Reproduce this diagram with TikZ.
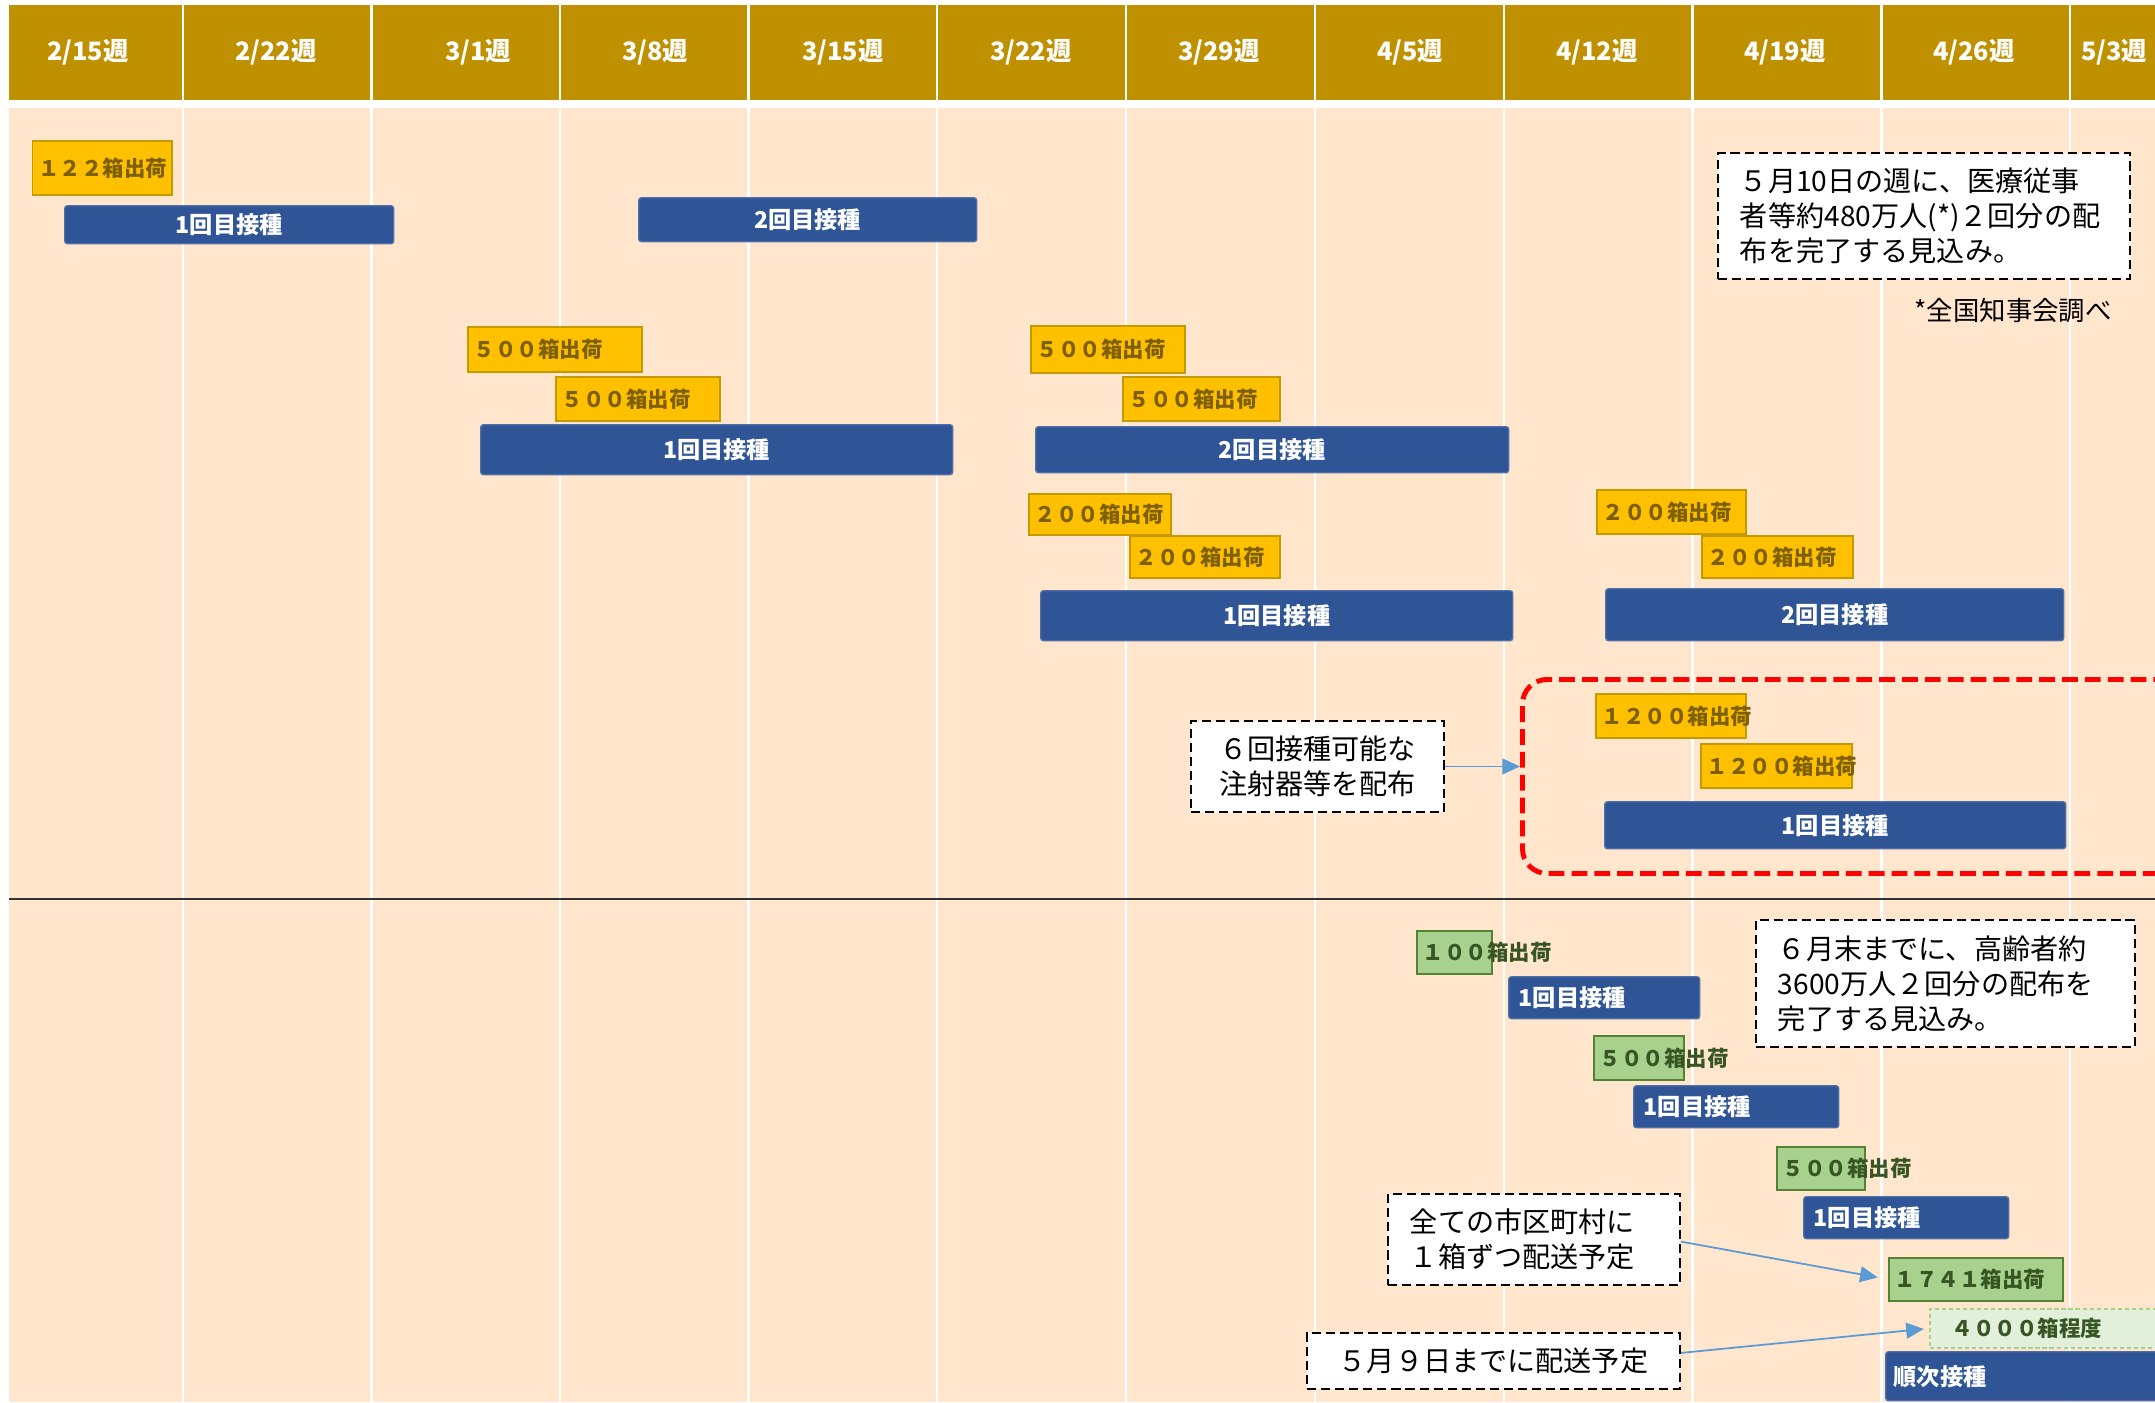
\documentclass[tikz,border=0pt]{standalone}
\usepackage{fontspec}
\setmainfont{Noto Sans CJK JP}
\usetikzlibrary{arrows.meta}
\definecolor{hdr}{HTML}{BF9000}
\definecolor{peach}{HTML}{FFE6CC}
\definecolor{ylw}{HTML}{FFC000}
\definecolor{ylwline}{HTML}{C49A00}
\definecolor{ylwtxt}{HTML}{7F6000}
\definecolor{blu}{HTML}{2F5597}
\definecolor{bluline}{HTML}{4F6FA8}
\definecolor{grn}{HTML}{A9D18E}
\definecolor{grnline}{HTML}{548235}
\definecolor{grntxt}{HTML}{375623}
\definecolor{lgrn}{HTML}{E2EFDA}
\definecolor{arr}{HTML}{5B9BD5}
\newcommand\bxc[7]{\node[#1, anchor=north west, minimum width={(#5-#3)*0.01cm}, minimum height={(#6-#4)*0.01cm}] (#2) at (#3,#4) {#7};}
\newcommand\bxl[8]{\pgfmathsetlengthmacro\bxtw{(#5-#3-2*#8)*0.01cm}\pgfmathsetlengthmacro\bxin{#8*0.01cm}\node[#1, anchor=north west, minimum width={(#5-#3)*0.01cm}, minimum height={(#6-#4)*0.01cm}, text width=\bxtw, inner xsep=\bxin, align=left] (#2) at (#3,#4) {#7};}
\tikzset{
  hdrtxt/.style={font=\fontsize{7.2pt}{8pt}\bfseries, text=white, inner sep=0pt},
  ybox/.style={fill=ylw, draw=ylwline, line width=0.45pt, inner sep=0pt, font=\fontsize{6.1pt}{7pt}\bfseries, text=ylwtxt},
  gbox/.style={fill=grn, draw=grnline, line width=0.45pt, inner sep=0pt, font=\fontsize{6.1pt}{7pt}\bfseries, text=grntxt},
  lgbox/.style={fill=lgrn, draw=grn, line width=0.5pt, dash pattern=on 1.2pt off 0.8pt, inner sep=0pt, font=\fontsize{6.1pt}{7pt}\bfseries, text=grntxt},
  bbox/.style={fill=blu, draw=bluline, line width=0.4pt, rounded corners=0.8pt, inner sep=0pt, font=\fontsize{6.6pt}{7.5pt}\bfseries, text=white},
  note/.style={fill=white, draw=black, line width=0.55pt, dash pattern=on 2.6pt off 1.4pt, inner sep=0pt, font=\fontsize{8pt}{10pt}\selectfont},
  redbox/.style={draw=red, line width=1.4pt, dash pattern=on 4.5pt off 2pt, rounded corners=7pt, inner sep=0pt},
  conn/.style={draw=arr, line width=0.5pt, -{Triangle[length=5pt,width=4.5pt]}},
  sep/.style={draw=white, line width=0.7pt}
}
\begin{document}
\begin{tikzpicture}[x=0.01cm,y=-0.01cm]
\useasboundingbox (0,0) rectangle (2155,1402);
\clip (0,0) rectangle (2155,1402);
\fill[white] (0,0) rectangle (2155,1402);
% header band and body
\fill[hdr] (9,5) rectangle (2155,100);
\fill[peach] (9,108) rectangle (2155,1402);
\foreach \sx in {183,371.5,560,748.5,937,1126,1315,1504,1692.5,1881.5,2070}
  \draw[sep] (\sx,0) -- (\sx,1402);
% header labels
\node[hdrtxt] (h1) at (88,52) {2/15週};
\node[hdrtxt] (h2) at (276,52) {2/22週};
\node[hdrtxt] (h3) at (478,52) {3/1週};
\node[hdrtxt] (h4) at (655,52) {3/8週};
\node[hdrtxt] (h5) at (843,52) {3/15週};
\node[hdrtxt] (h6) at (1031,52) {3/22週};
\node[hdrtxt] (h7) at (1219,52) {3/29週};
\node[hdrtxt] (h8) at (1410,52) {4/5週};
\node[hdrtxt] (h9) at (1597,52) {4/12週};
\node[hdrtxt] (h10) at (1785,52) {4/19週};
\node[hdrtxt] (h11) at (1974,52) {4/26週};
\node[hdrtxt] (h12) at (2114,52) {5/3週};
% divider
\draw[line width=0.7pt, black!80] (9,899) -- (2155,899);
% upper section
\bxl{ybox}{y1}{31.6}{140}{171}{194}{１２２箱出荷}{6}
\bxc{bbox}{b1}{64}{205}{393}{243}{1回目接種}
\bxc{bbox}{b2}{638}{197}{976}{241}{2回目接種}
\bxl{ybox}{y2}{467}{326}{641}{371}{５００箱出荷}{6}
\bxl{ybox}{y3}{555}{376}{719}{420}{５００箱出荷}{6}
\bxc{bbox}{b3}{480}{424}{952}{474}{1回目接種}
\bxl{ybox}{y4}{1030}{325}{1184}{372}{５００箱出荷}{6}
\bxl{ybox}{y5}{1122}{376}{1279}{420}{５００箱出荷}{6}
\bxc{bbox}{b4}{1035}{426}{1508}{472}{2回目接種}
\bxl{ybox}{y6}{1028}{493}{1170}{534}{２００箱出荷}{6}
\bxl{ybox}{y7}{1129}{535}{1279}{577}{２００箱出荷}{6}
\bxc{bbox}{b5}{1040}{590}{1512}{640}{1回目接種}
\bxl{ybox}{y8}{1596}{489}{1745}{533}{２００箱出荷}{6}
\bxl{ybox}{y9}{1701}{535}{1852}{577}{２００箱出荷}{6}
\bxc{bbox}{b6}{1605}{588}{2063}{640}{2回目接種}
% six-dose group
\bxc{redbox}{grp}{1520}{677}{2260}{871}{}
\bxl{ybox}{y10}{1595}{693}{1745}{737}{１２００箱出荷}{6}
\bxl{ybox}{y11}{1700}{743}{1851}{787}{１２００箱出荷}{6}
\bxc{bbox}{b7}{1604}{801}{2065}{848}{1回目接種}
\bxc{note, align=center}{n6}{1190}{720}{1443}{811}{６回接種可能な\\注射器等を配布}
\draw[conn] (n6.east) -- (n6.east -| grp.west);
% notes top right
\bxl{note}{n510}{1717}{152}{2129}{278}{５月10日の週に、医療従事\\者等約480万人(*)２回分の配\\布を完了する見込み。}{22}
\node[font=\fontsize{7.5pt}{9pt}\selectfont, inner sep=0pt] (src) at (2013,311) {*全国知事会調べ};
% lower section
\bxl{gbox}{g1}{1416}{930}{1491}{973}{１００箱出荷}{6}
\bxl{bbox}{b8}{1508}{976}{1699}{1018}{1回目接種}{10}
\bxl{gbox}{g2}{1593}{1035}{1683}{1079}{５００箱出荷}{6}
\bxl{bbox}{b9}{1633}{1085}{1838}{1127}{1回目接種}{10}
\bxl{gbox}{g3}{1776}{1146}{1864}{1189}{５００箱出荷}{6}
\bxl{bbox}{b10}{1803}{1196}{2008}{1238}{1回目接種}{10}
\bxl{gbox}{g1741}{1888}{1257}{2062}{1300}{１７４１箱出荷}{6}
\bxl{lgbox}{g4000}{1929}{1308}{2220}{1347}{４０００箱程度}{22}
\bxl{bbox}{b11}{1885}{1351}{2220}{1400}{順次接種}{8}
\bxl{note}{n6end}{1755}{919}{2134}{1046}{６月末までに、高齢者約\\3600万人２回分の配布を\\完了する見込み。}{22}
\bxl{note}{nall}{1387}{1193}{1679}{1284}{全ての市区町村に\\１箱ずつ配送予定}{22}
\bxc{note}{n59}{1306}{1332}{1679}{1388}{５月９日までに配送予定}
\draw[conn, shorten >=3pt] ([yshift=-0.6pt]nall.east) -- (g1741.west);
\draw[conn, shorten >=1.5pt] ([yshift=2.3pt]n59.east) -- (g4000.west);
\end{tikzpicture}
\end{document}
